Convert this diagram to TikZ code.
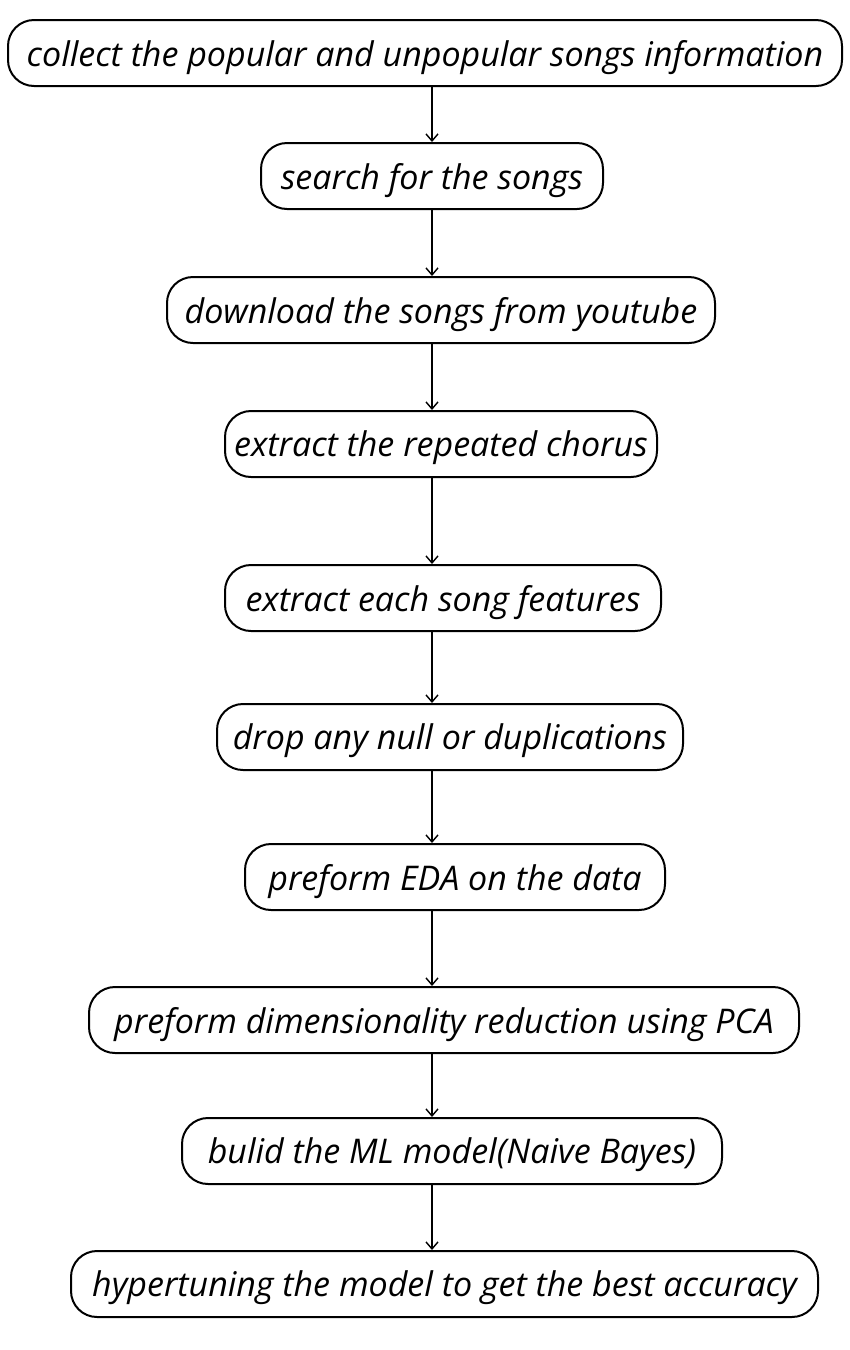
\documentclass[tikz,border=0pt]{standalone}
\usepackage{fontspec}
\setsansfont{Open Sans}
\usetikzlibrary{arrows.meta}

\tikzset{
  stage/.style={draw, line width=1pt, rounded corners=13pt, minimum height=33pt,
    inner sep=0pt, text depth=0pt, font=\sffamily\itshape\fontsize{17}{20}\selectfont},
  flow/.style={-{Straight Barb[length=3.5pt,width=6pt]}, line width=0.7pt}
}

\begin{document}
\begin{tikzpicture}[x=0.5pt, y=-0.5pt]
  \useasboundingbox (0, 0) rectangle (850, 1350);
  \coordinate (col) at (432, 0);
  \node[stage, minimum width=417pt] (collect) at (425, 53)
    {collect the popular and unpopular songs information};
  \node[stage, minimum width=171pt] (search) at (432, 176) {search for the songs};
  \node[stage, minimum width=274pt] (download) at (441, 310)
    {download the songs from youtube};
  \node[stage, minimum width=216pt] (chorus) at (441, 444)
    {extract the repeated chorus};
  \node[stage, minimum width=218pt] (features) at (443, 598)
    {extract each song features};
  \node[stage, minimum width=233pt] (drop) at (450, 737)
    {drop any null or duplications};
  \node[stage, minimum width=210pt] (eda) at (455, 877) {preform EDA on the data};
  \node[stage, minimum width=355pt] (pca) at (444, 1020)
    {preform dimensionality reduction using PCA};
  \node[stage, minimum width=270pt] (model) at (452, 1151)
    {bulid the ML model(Naive Bayes)};
  \node[stage, minimum width=373.5pt] (tune) at (444.5, 1284)
    {hypertuning the model to get the best accuracy};
  \foreach \a/\b in {collect/search, search/download, download/chorus,
    chorus/features, features/drop, drop/eda, eda/pca, pca/model, model/tune}
    \draw[flow] (\a.south -| col) -- (\b.north -| col);
\end{tikzpicture}
\end{document}
